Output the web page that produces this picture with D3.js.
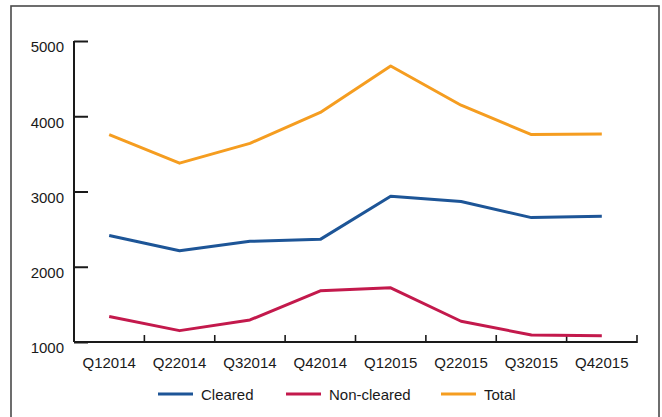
<!DOCTYPE html>
<html>
<head>
<meta charset="utf-8">
<script src="https://cdn.jsdelivr.net/npm/d3@7"></script>
<style>
  html, body { margin: 0; padding: 0; background: #fff; }
  svg { display: block; }
  text { font-family: "Liberation Sans", Arial, sans-serif; font-size: 15px; fill: #1a1a1a; }
</style>
</head>
<body>
<svg id="chart" width="662" height="417"></svg>
<script>
const quarters = ["Q12014","Q22014","Q32014","Q42014","Q12015","Q22015","Q32015","Q42015"];
const cleared    = [2415, 2213, 2338, 2364, 2938, 2867, 2653, 2671];
const nonCleared = [1338, 1151, 1293, 1680, 1720, 1276, 1093, 1084];
const total      = [3756, 3377, 3640, 4050, 4667, 4147, 3756, 3764];
const yTicks = [1000, 2000, 3000, 4000, 5000];
const seriesNames = ["Cleared", "Non-cleared", "Total"];
const seriesColors = ["#1d5597", "#c3194c", "#f59d20"];

const series = [cleared, nonCleared, total].map((vals, i) => ({
  name: seriesNames[i], color: seriesColors[i],
  values: vals.map((v, j) => ({ q: quarters[j], v }))
}));

const svg = d3.select("#chart");
const mLeft = 74, mRight = 637, mTop = 41, mBottom = 342;

// outer frame
svg.append("rect").attr("x", 11).attr("y", 6).attr("width", 648).attr("height", 420)
  .attr("fill", "none").attr("stroke", "#4a4a4a").attr("stroke-width", 1.6);

const x = d3.scaleBand().domain(quarters).range([mLeft, mRight]);
const y = d3.scaleLinear().domain([1000, 5000]).range([mBottom, mTop]);

// Y axis
const yAxis = svg.append("g").attr("transform", `translate(${mLeft},0)`)
  .call(d3.axisRight(y).tickValues(yTicks).tickSize(14).tickFormat(d3.format("d")));
yAxis.select(".domain").attr("stroke", "#1a1a1a").attr("stroke-width", 2).attr("d", `M0,${mTop}V${mBottom}`);
yAxis.selectAll(".tick line").attr("stroke", "#1a1a1a").attr("stroke-width", 2);
yAxis.selectAll(".tick text").attr("x", -10).attr("dy", "0.72em").attr("y", 0)
  .attr("text-anchor", "end").attr("fill", "#1a1a1a")
  .style("font-family", '"Liberation Sans", Arial, sans-serif').style("font-size", "15px");

// X axis
const bounds = quarters.map(q => x(q)).slice(1).concat([mRight]);
const xg = svg.append("g");
xg.append("line").attr("x1", mLeft).attr("x2", mRight).attr("y1", mBottom).attr("y2", mBottom)
  .attr("stroke", "#1a1a1a").attr("stroke-width", 2);
xg.selectAll("line.tk").data(bounds).enter().append("line").attr("class", "tk")
  .attr("x1", d => d).attr("x2", d => d).attr("y1", mBottom + 1).attr("y2", mBottom - 7)
  .attr("stroke", "#1a1a1a").attr("stroke-width", 1.6);
xg.selectAll("text").data(quarters).enter().append("text")
  .attr("x", d => x(d) + x.bandwidth() / 2).attr("y", 367.5)
  .attr("text-anchor", "middle").text(d => d);

// Lines
const line = d3.line().x(d => x(d.q) + x.bandwidth() / 2).y(d => y(d.v));
svg.selectAll("path.series").data(series).enter().append("path").attr("class", "series")
  .attr("d", d => line(d.values)).attr("fill", "none")
  .attr("stroke", d => d.color).attr("stroke-width", 3).attr("stroke-linejoin", "round");

// Legend
const legendX = [158, 286, 441];
const lg = svg.selectAll("g.leg").data(series).enter().append("g").attr("class", "leg")
  .attr("transform", (d, i) => `translate(${legendX[i]},394)`);
lg.append("line").attr("x1", 0).attr("x2", 35).attr("stroke", d => d.color).attr("stroke-width", 3);
lg.append("text").attr("x", 43).attr("y", 5.5).text(d => d.name);
</script>
</body>
</html>
